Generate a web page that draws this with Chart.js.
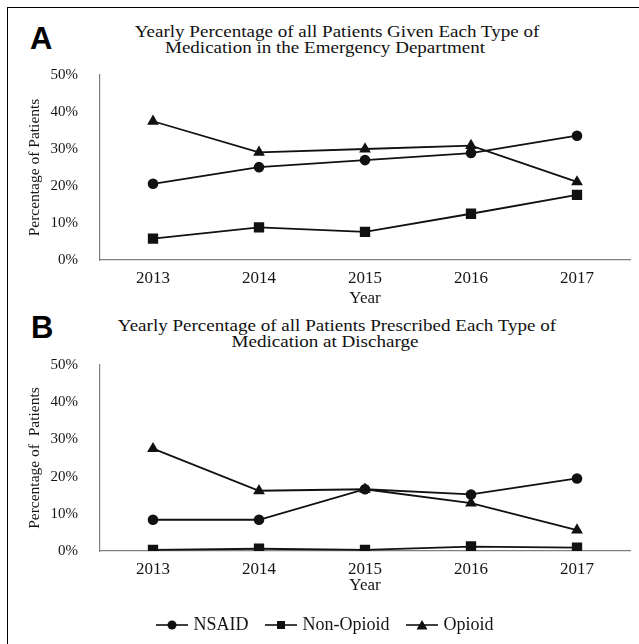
<!DOCTYPE html>
<html>
<head>
<meta charset="utf-8">
<script src="https://cdn.jsdelivr.net/npm/chart.js@4.4.1/dist/chart.umd.min.js"></script>
<style>
html, body { margin: 0; padding: 0; background: #fff; width: 639px; height: 644px; overflow: hidden; }
#frame { position: absolute; left: 7px; top: 7px; width: 660px; height: 660px; border-left: 1px solid #000; border-top: 1px solid #000; }
.letter { position: absolute; font: bold 31px "Liberation Sans", Arial, sans-serif; line-height: 31px; color: #000; }
.tl { position: absolute; font: 16px "Liberation Serif", "Times New Roman", serif; line-height: 16px; white-space: nowrap; color: #111; transform: translateX(-50%) scaleX(1.19); }
canvas { position: absolute; left: 0; }
</style>
</head>
<body>
<div id="frame"></div>
<div class="letter" style="left:30px;top:23px">A</div>
<div class="tl" style="left:337px;top:24px">Yearly Percentage of all Patients Given Each Type of</div>
<div class="tl" style="left:325px;top:40px">Medication in the Emergency Department</div>
<canvas id="chartA" width="639" height="309" style="top:0"></canvas>

<div class="letter" style="left:31px;top:312px">B</div>
<div class="tl" style="left:337px;top:318px">Yearly Percentage of all Patients Prescribed Each Type of</div>
<div class="tl" style="left:325px;top:334px">Medication at Discharge</div>
<canvas id="chartB" width="639" height="344" style="top:300px"></canvas>

<script>
// values (percent)
const years = ['2013', '2014', '2015', '2016', '2017'];
const seriesNames = ['NSAID', 'Non-Opioid', 'Opioid'];
const yTicks = [0, 10, 20, 30, 40, 50];

// A: given in the emergency department
const edNsaid = [20.6, 25.1, 27.0, 28.9, 33.6];
const edNonOpioid = [5.8, 8.8, 7.6, 12.5, 17.6];
const edOpioid = [37.5, 29.1, 30.0, 30.9, 21.1];

// B: prescribed at discharge
const dcNsaid = [8.4, 8.4, 16.6, 15.2, 19.5];
const dcNonOpioid = [0.3, 0.6, 0.3, 1.2, 0.9];
const dcOpioid = [27.5, 16.2, 16.6, 12.9, 5.6];

const INK = '#111';
const TEXT = '#151515';
const AXIS = '#808080';
const SERIF = '"Liberation Serif", "Times New Roman", serif';
const markers = [
  { pointStyle: 'circle', radius: 5.3 },
  { pointStyle: 'rect', radius: 7.3 },
  { pointStyle: 'triangle', radius: 6.8 }
];

// little "line with marker" picture for the legend
function makeIcon(style) {
  const c = document.createElement('canvas');
  c.width = 32; c.height = 12;
  const g = c.getContext('2d');
  g.strokeStyle = INK; g.fillStyle = INK; g.lineWidth = 1.6;
  g.beginPath(); g.moveTo(0, 6); g.lineTo(32, 6); g.stroke();
  g.beginPath();
  if (style === 'circle') g.arc(16, 6, 4.5, 0, Math.PI * 2);
  else if (style === 'rect') g.rect(12, 2, 8, 8);
  else { g.moveTo(16, 1); g.lineTo(21.5, 10.5); g.lineTo(10.5, 10.5); g.closePath(); }
  g.fill();
  return c;
}

function makeDatasets(lists) {
  return lists.map((data, i) => ({
    label: seriesNames[i],
    data: data,
    borderColor: INK,
    backgroundColor: INK,
    borderWidth: 1.8,
    pointStyle: markers[i].pointStyle,
    pointRadius: markers[i].radius,
    pointBackgroundColor: INK,
    pointBorderColor: INK,
    pointBorderWidth: 0,
    tension: 0,
    fill: false
  }));
}

function makeOptions(cfg) {
  return {
    responsive: false,
    animation: false,
    devicePixelRatio: 1,
    layout: { padding: { left: 23, right: 9, top: cfg.top, bottom: 0 } },
    plugins: {
      title: { display: false },
      tooltip: { enabled: false },
      legend: cfg.legend ? {
        display: true,
        position: 'bottom',
        labels: {
          usePointStyle: true,
          pointStyleWidth: 25,
          padding: 20,
          color: TEXT,
          font: { family: SERIF, size: 18 },
          generateLabels: (chart) => chart.data.datasets.map((ds, i) => ({
            text: ds.label,
            pointStyle: makeIcon(markers[i].pointStyle),
            fillStyle: INK,
            strokeStyle: INK,
            lineWidth: 0,
            fontColor: TEXT,
            hidden: false,
            datasetIndex: i
          }))
        }
      } : { display: false }
    },
    scales: {
      x: {
        offset: true,
        grid: { display: false, drawTicks: false },
        border: { display: true, color: AXIS, width: 1.2 },
        ticks: { color: TEXT, padding: 8, maxRotation: 0, autoSkip: false, font: { family: SERIF, size: 17 } },
        title: { display: true, text: 'Year', color: TEXT, padding: { top: 0, bottom: 0 }, font: { family: SERIF, size: 17 } },
        afterFit: (s) => { s.height = cfg.xHeight; }
      },
      y: {
        min: 0,
        max: 50,
        grid: { display: false, drawTicks: false },
        border: { display: true, color: AXIS, width: 1.2 },
        afterBuildTicks: (s) => { s.ticks = yTicks.map(v => ({ value: v })); },
        ticks: { color: TEXT, padding: 22, font: { family: SERIF, size: 15 }, callback: (v) => v + '%' },
        title: { display: true, text: cfg.yTitle, color: TEXT, padding: { top: 3, bottom: 3 }, font: { family: SERIF, size: 15.5 } },
        afterFit: (s) => { s.width = 77; }
      }
    }
  };
}

new Chart(document.getElementById('chartA'), {
  type: 'line',
  data: { labels: years, datasets: makeDatasets([edNsaid, edNonOpioid, edOpioid]) },
  options: makeOptions({ top: 75, legend: false, xHeight: 49, yTitle: 'Percentage of Patients' })
});

new Chart(document.getElementById('chartB'), {
  type: 'line',
  data: { labels: years, datasets: makeDatasets([dcNsaid, dcNonOpioid, dcOpioid]) },
  options: makeOptions({ top: 65, legend: true, xHeight: 45, yTitle: 'Percentage of  Patients' })
});
</script>
</body>
</html>
